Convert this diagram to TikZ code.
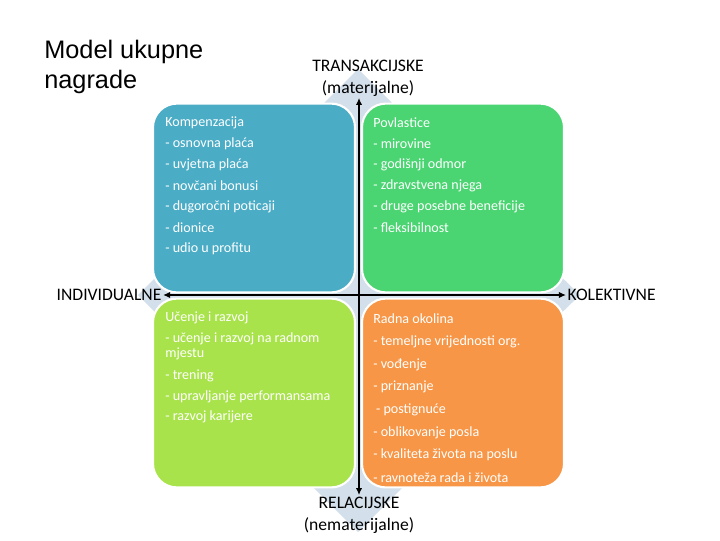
\documentclass[tikz,border=0pt]{standalone}
\usepackage{fontspec}
\setmainfont{Carlito}
\newfontfamily\titlefont{Liberation Sans}
\usetikzlibrary{arrows.meta}
\definecolor{cblue}{HTML}{4BACC6}
\definecolor{cgreen}{HTML}{4AD572}
\definecolor{clime}{HTML}{A9E34B}
\definecolor{corange}{HTML}{F79646}
\definecolor{cback}{HTML}{D3DFEA}
\tikzset{
  every picture/.style={x=0.025cm, y=-0.025cm},
  quad/.style={draw=white, line width=1.5pt, fill=#1, rounded corners=17pt, minimum width=5.05cm, minimum height=4.72cm, inner sep=0pt},
  quad/.default=cblue,
  item/.style={anchor=west, inner sep=0pt, text=white, font=\fontsize{10}{12}\selectfont},
  axislab/.style={font=\fontsize{12.5}{15.6}\selectfont, align=center, inner sep=1pt},
  axis/.style={{Latex[length=5pt,width=4.5pt]}-{Latex[length=5pt,width=4.5pt]}, line width=1.3pt},
}

\begin{document}
\begin{tikzpicture}
\useasboundingbox (0,0) rectangle (720,540);
% background star
\fill[cback] (358,69) -- (300,127) -- (196,237) -- (138,295) -- (196,353) -- (300,474) -- (358,532)
  -- (416,474) -- (520,353) -- (580,295) -- (520,237) -- (416,127) -- cycle;
% quadrants
\node[quad=cblue] (komp) at (254,198) {};
\node[quad=cgreen] (povl) at (463,198) {};
\node[quad=clime] (ucenje) at (254,393) {};
\node[quad=corange] (okolina) at (463,393) {};
% title
\node[anchor=north west, inner sep=0pt, align=left, font=\titlefont\fontsize{18}{21.5}\selectfont] (title) at (44,40) {Model ukupne\\nagrade};
% axis labels
\node[axislab] (transakc) at (368,78) {TRANSAKCIJSKE\\(materijalne)};
\node[axislab] (relac) at (359,515) {RELACIJSKE\\(nematerijalne)};
\node[axislab, anchor=east] (indiv) at (163,295) {INDIVIDUALNE};
\node[axislab, anchor=west] (kolekt) at (566,295) {KOLEKTIVNE};
\draw[axis] (relac.north |- transakc.south) -- (relac.north);
\draw[axis] (indiv.east) -- (kolekt.west);
% Kompenzacija
\foreach \t [count=\i] in {Kompenzacija, - osnovna plaća, - uvjetna plaća, - novčani bonusi, - dugoročni poticaji, - dionice, - udio u profitu}
  \node[item] (komp-\i) at (165,{123+21*(\i-1)}) {\t};
% Povlastice
\foreach \t [count=\i] in {Povlastice, - mirovine, - godišnji odmor, - zdravstvena njega, - druge posebne beneficije, - fleksibilnost}
  \node[item] (povl-\i) at (373,{123+21*(\i-1)}) {\t};
% Ucenje i razvoj
\foreach \y/\t [count=\i] in {318/Učenje i razvoj, 339/- učenje i razvoj na radnom, 354/mjestu, 376/- trening, 397/- upravljanje performansama, 417/- razvoj karijere}
  \node[item] (ucenje-\i) at (165,\y) {\t};
% Radna okolina
\foreach \t [count=\i] in {Radna okolina, - temeljne vrijednosti org., - vođenje, - priznanje, {\hspace{2pt}- postignuće}, - oblikovanje posla, - kvaliteta života na poslu, - ravnoteža rada i života}
  \node[item] (okolina-\i) at (373,{319+22.7*(\i-1)}) {\t};
\end{tikzpicture}
\end{document}
